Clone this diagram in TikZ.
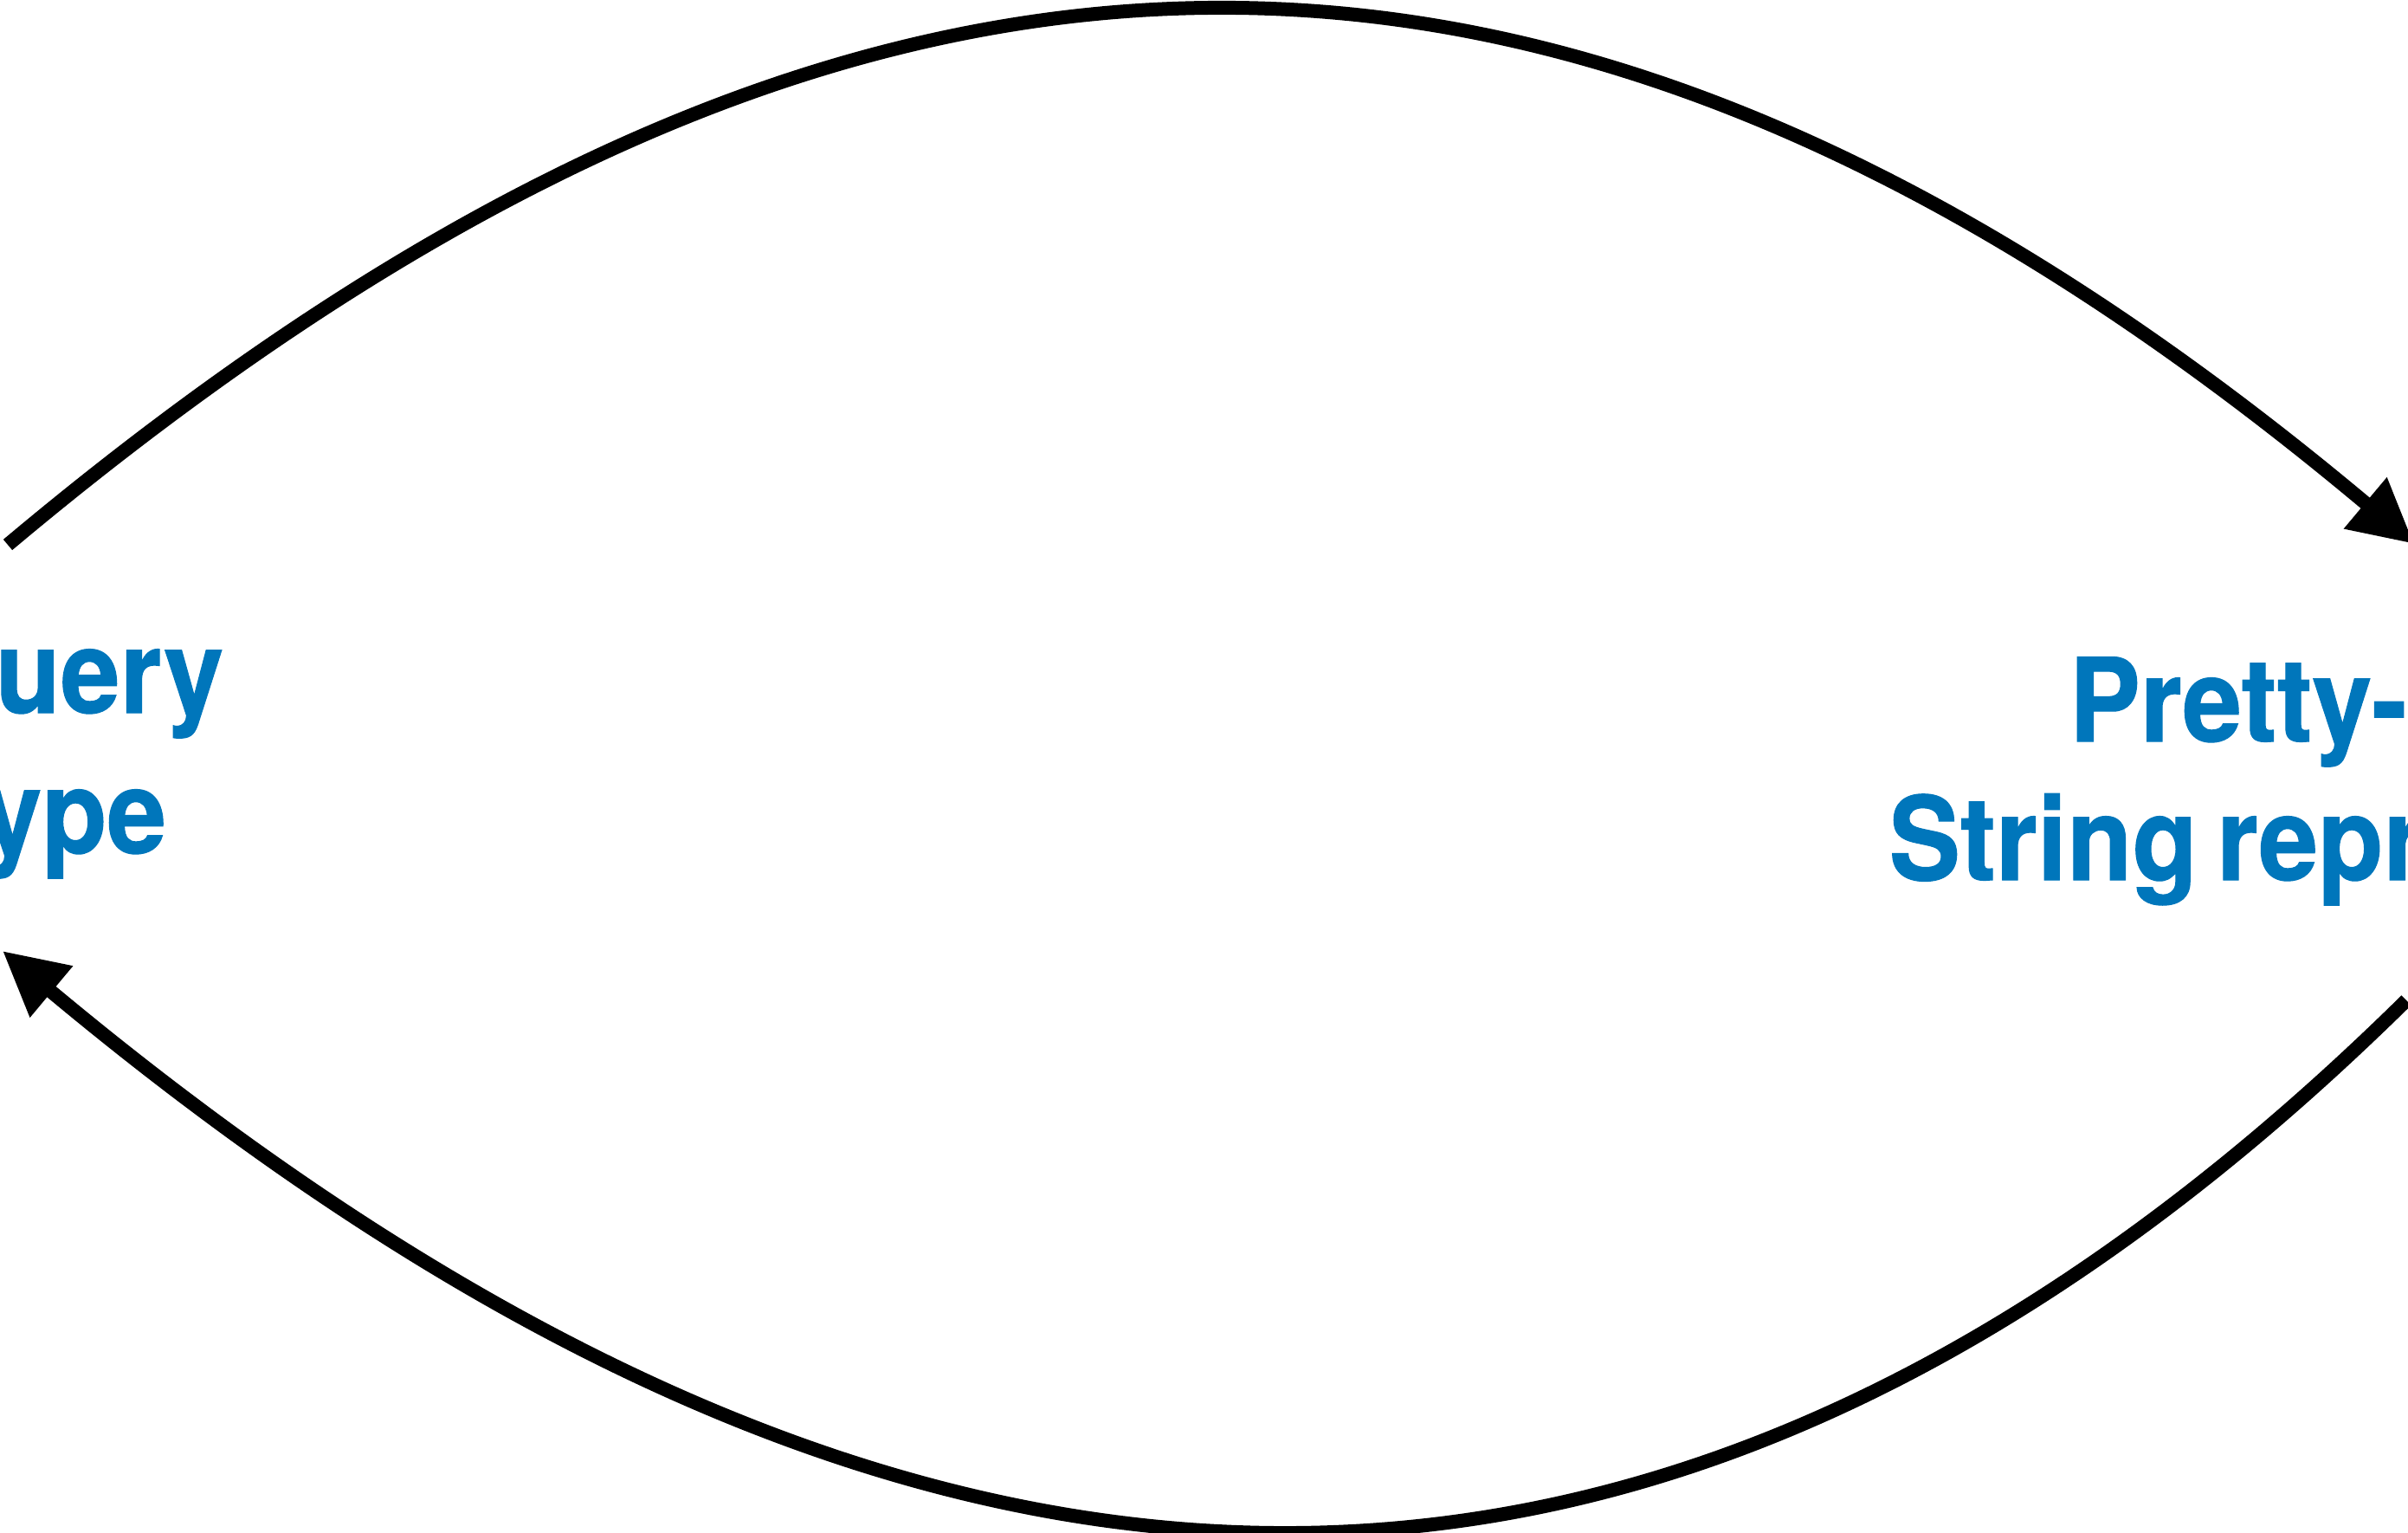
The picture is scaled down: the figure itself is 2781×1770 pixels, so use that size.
\documentclass[tikz,border=0pt]{standalone}
\usepackage{fontspec}
\setmainfont{TeX Gyre Heros}
\newfontfamily\labelfont[FakeStretch=0.92,FakeBold=0.8,WordSpace=0.65]{TeX Gyre Heros}
\usetikzlibrary{arrows.meta}
\definecolor{labelblue}{RGB}{0,118,187}
\begin{document}
\begin{tikzpicture}[x=0.01cm,y=-0.01cm,
  conn/.style={line width=4.55pt, -{Triangle[length=0.735cm,width=0.73cm]}},
  lbl/.style={anchor=base west, inner sep=0pt, text=labelblue,
    font=\labelfont\bfseries\fontsize{38.1pt}{45.5pt}\selectfont}]
\useasboundingbox (0,0) rectangle (2781,1770);
\clip (0,0) rectangle (2781,1770);
\node[lbl] (q1) at (-6,823) {uery};
\node[lbl] (q2) at (-21,985) {ype};
\node[lbl] (p1) at (2389,856) {Pretty-};
\node[lbl] (p2) at (2181,1016) {String repr};
\coordinate (ts) at (9,629);
\coordinate (te) at (2788,628);
\coordinate (bs) at (2779,1155);
\coordinate (be) at (3,1098);
\draw[conn] (ts) .. controls (985,-190) and (1812,-190) .. (te);
\draw[conn] (bs) .. controls (1878,2043) and (974,1908) .. (be);
\end{tikzpicture}
\end{document}
